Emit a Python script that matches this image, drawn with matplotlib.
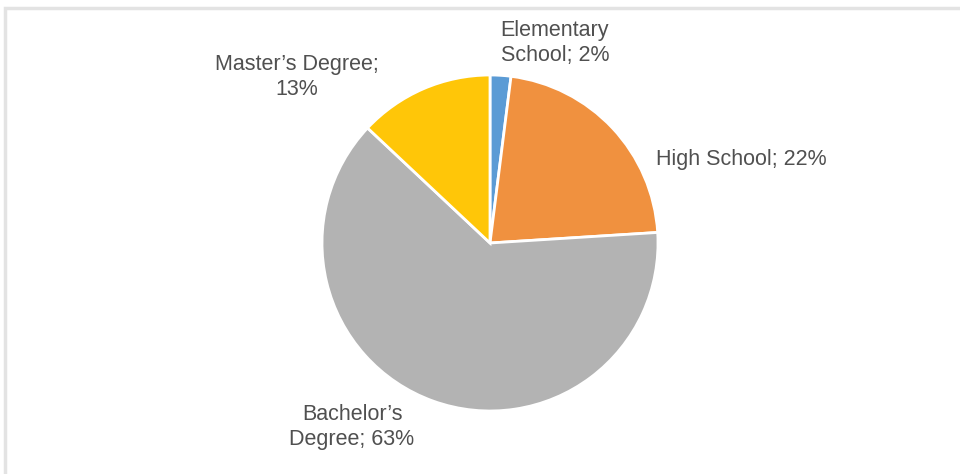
import matplotlib
matplotlib.use('Agg')
import matplotlib.pyplot as plt
from matplotlib.patches import Rectangle

plt.rcParams['font.family'] = ['Liberation Sans', 'DejaVu Sans']

categories = ['Elementary School', 'High School', "Bachelor's Degree", "Master's Degree"]
shares = [2, 22, 63, 13]
colors = ['#5B9BD5', '#F0913F', '#B3B3B3', '#FFC608']

# label text, wrapped the way the chart shows it
label_text = ['Elementary\nSchool; 2%', 'High School; 22%',
              "Bachelor\u2019s\nDegree; 63%", "Master\u2019s Degree;\n13%"]
label_pos = [(555, 431), (741, 315), (352, 47), (297, 397)]

W, H = 960, 474
fig = plt.figure(figsize=(W / 100, H / 100), dpi=100)
ax = fig.add_axes([0, 0, 1, 1])

# chart frame (only top and left edges fall inside the image)
ax.add_patch(Rectangle((5, -20), W + 40, H - 8 + 20, fill=False,
                       edgecolor='#e3e3e3', linewidth=2.5, clip_on=False))

ax.pie(shares, colors=colors, startangle=90, counterclock=False,
       center=(490, 231), radius=168, frame=True,
       wedgeprops=dict(edgecolor='white', linewidth=2))
ax.set_xlim(0, W)
ax.set_ylim(0, H)
ax.set_aspect('equal')
ax.axis('off')

for txt, (x, y) in zip(label_text, label_pos):
    ax.text(x, y, txt, ha='center', va='center', fontsize=15.5,
            color='#505050', linespacing=1.25)

fig.savefig('out.png', dpi=100, facecolor='white')
